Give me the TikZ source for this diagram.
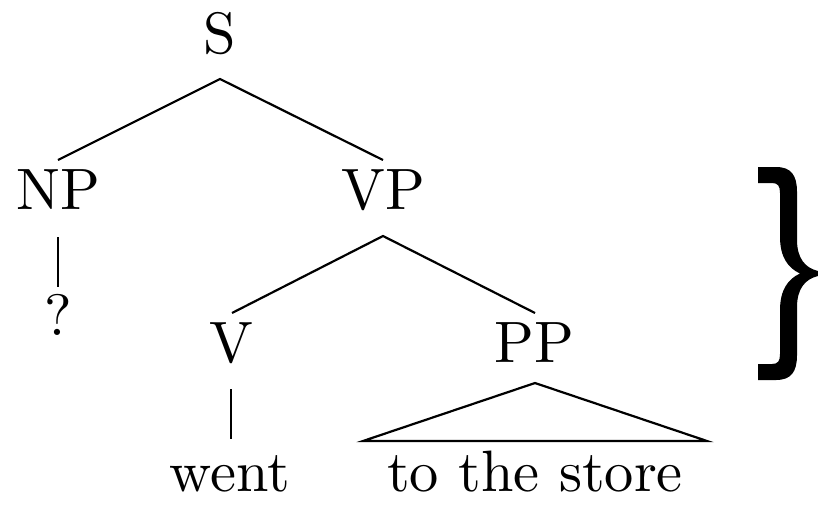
\documentclass[tikz,border=0pt]{standalone}
\usepackage{graphicx}
\newcommand{\biglbl}[1]{\scalebox{2.92}{\fontsize{10}{12}\selectfont #1}}
\begin{document}
\begin{tikzpicture}[x=0.5pt,y=-0.5pt,
  lbl/.style={anchor=base,inner sep=0pt},
  edge/.style={line width=1.1pt},
  brace/.style={fill=black}]
\useasboundingbox (0,0) rectangle (818,504);
% labels
\node[lbl] (S)  at (220,53) {\biglbl{S}};
\node[lbl] (NP) at (58,209) {\biglbl{NP}};
\node[lbl] (VP) at (383,209) {\biglbl{VP}};
\node[lbl] (Q)  at (58,335) {\biglbl{?}};
\node[lbl] (V)  at (231,362) {\biglbl{V}};
\node[lbl] (PP) at (534,362) {\biglbl{PP}};
\node[lbl] (went) at (230,491) {\biglbl{went}};
\node[lbl] (store) at (535,491) {\biglbl{to the store}};
% connector end points
\coordinate (S-d)  at (220,79);
\coordinate (NP-u) at (58,160);
\coordinate (VP-u) at (383,160);
\coordinate (NP-d) at (58,237);
\coordinate (Q-u)  at (58,287);
\coordinate (VP-d) at (383,236);
\coordinate (V-u)  at (232,313);
\coordinate (PP-u) at (535,313);
\coordinate (V-d)  at (231,389);
\coordinate (went-u) at (231,439);
\coordinate (PP-d) at (535,383);
\coordinate (store-l) at (363,441);
\coordinate (store-r) at (707,441);
% connectors
\draw[edge] (NP-u) -- (S-d) -- (VP-u);
\draw[edge] (NP-d) -- (Q-u);
\draw[edge] (V-u) -- (VP-d) -- (PP-u);
\draw[edge] (V-d) -- (went-u);
\draw[edge,line join=miter] (store-l) -- (PP-d) -- (store-r) -- cycle;
% brace
\fill[brace] (758,167) -- (776,167) .. controls (791,167) and (797,175) .. (797,192)
  -- (797,240) .. controls (797,258) and (805,268) .. (818,271)
  -- (818,276) .. controls (805,279) and (797,289) .. (797,307)
  -- (797,355) .. controls (797,372) and (791,380) .. (776,380)
  -- (758,380) -- (758,364) -- (772,364) .. controls (778,364) and (780,361) .. (780,354)
  -- (780,310) .. controls (780,290) and (788,279) .. (800,273.5)
  .. controls (788,268) and (780,257) .. (780,237)
  -- (780,193) .. controls (780,186) and (778,183) .. (772,183)
  -- (758,183) -- cycle;
\end{tikzpicture}
\end{document}
